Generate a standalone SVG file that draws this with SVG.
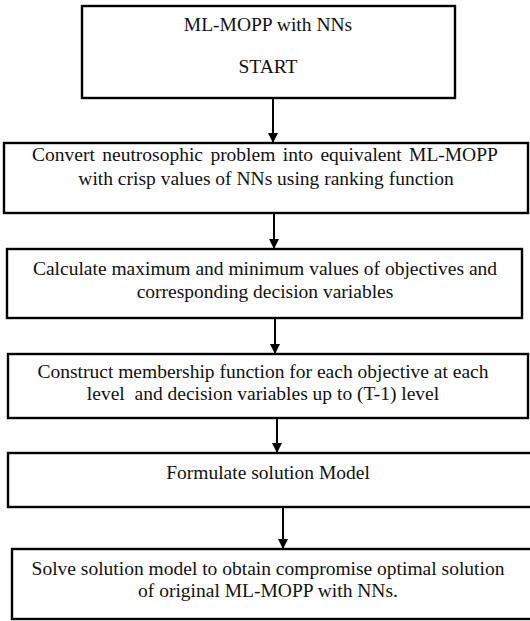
<svg xmlns="http://www.w3.org/2000/svg" width="530" height="621" viewBox="0 0 530 621">
<style>
.box{fill:#fff;stroke:#000;stroke-width:2.4}
.t{font-family:'Liberation Serif','Times New Roman',serif;font-size:19.5px;fill:#111;text-anchor:middle}
.c{stroke:#000;stroke-width:2;fill:none}
</style>
<defs>
<marker id="ah" viewBox="0 0 10 10" refX="10" refY="5" markerWidth="5" markerHeight="5" orient="auto" markerUnits="strokeWidth">
<path d="M0,0 L10,5 L0,10 z" fill="#000"/>
</marker>
</defs>
<rect width="530" height="621" fill="#fff"/>
<g id="n1"><rect class="box" x="82" y="6" width="373" height="92"/>
<text class="t" x="268" y="31">ML-MOPP with NNs</text>
<text class="t" x="268" y="73">START</text></g>
<g id="n2"><rect class="box" x="4" y="143" width="524" height="70"/>
<text class="t" x="265" y="161" word-spacing="2.5">Convert neutrosophic problem into equivalent ML-MOPP</text>
<text class="t" x="266" y="185">with crisp values of NNs using ranking function</text></g>
<g id="n3"><rect class="box" x="7" y="249" width="515" height="69"/>
<text class="t" x="265" y="275">Calculate maximum and minimum values of objectives and</text>
<text class="t" x="265" y="298">corresponding decision variables</text></g>
<g id="n4"><rect class="box" x="8" y="354" width="520" height="64"/>
<text class="t" x="263" y="378">Construct membership function for each objective at each</text>
<text class="t" x="263" y="400" xml:space="preserve">level  and decision variables up to (T-1) level</text></g>
<g id="n5"><rect class="box" x="8" y="453" width="524" height="54"/>
<text class="t" x="268" y="479">Formulate solution Model</text></g>
<g id="n6"><rect class="box" x="12" y="549" width="520" height="70"/>
<text class="t" x="268" y="575">Solve solution model to obtain compromise optimal solution</text>
<text class="t" x="268" y="597">of original ML-MOPP with NNs.</text></g>
<g id="connectors">
<line class="c" x1="273" y1="98" x2="273" y2="143" marker-end="url(#ah)"/>
<line class="c" x1="274" y1="213" x2="274" y2="249" marker-end="url(#ah)"/>
<line class="c" x1="275" y1="318" x2="275" y2="354" marker-end="url(#ah)"/>
<line class="c" x1="277" y1="418" x2="277" y2="453" marker-end="url(#ah)"/>
<line class="c" x1="283" y1="507" x2="283" y2="549" marker-end="url(#ah)"/>
</g>
</svg>
